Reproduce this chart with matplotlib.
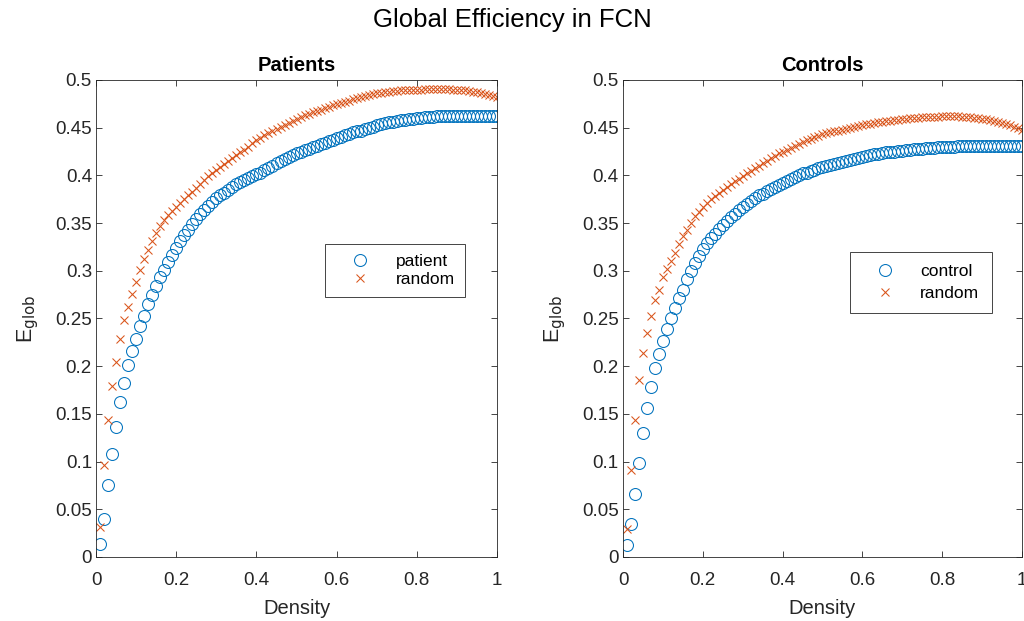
import numpy as np
import matplotlib.pyplot as plt

plt.rcParams['font.family'] = ['Liberation Sans', 'DejaVu Sans']

# density steps 0.01 .. 1.00
density = np.arange(1, 101) / 100

patient = [
    0.014, 0.040, 0.075, 0.108, 0.136, 0.162, 0.182, 0.201, 0.216, 0.229,
    0.242, 0.253, 0.265, 0.275, 0.284, 0.293, 0.301, 0.309, 0.317, 0.324,
    0.331, 0.337, 0.343, 0.349, 0.354, 0.359, 0.364, 0.368, 0.372, 0.376,
    0.379, 0.382, 0.385, 0.388, 0.391, 0.393, 0.395, 0.397, 0.399, 0.401,
    0.403, 0.406, 0.408, 0.410, 0.413, 0.415, 0.417, 0.419, 0.421, 0.423,
    0.425, 0.427, 0.428, 0.430, 0.431, 0.433, 0.434, 0.436, 0.437, 0.439,
    0.440, 0.442, 0.443, 0.445, 0.446, 0.447, 0.449, 0.450, 0.451, 0.453,
    0.454, 0.455, 0.456, 0.456, 0.457, 0.458, 0.458, 0.459, 0.459, 0.460,
    0.460, 0.461, 0.461, 0.461, 0.462, 0.462, 0.462, 0.462, 0.462, 0.462,
    0.462, 0.462, 0.462, 0.462, 0.462, 0.462, 0.462, 0.462, 0.462, 0.462,
]
patient_random = [
    0.031, 0.096, 0.144, 0.179, 0.204, 0.229, 0.248, 0.262, 0.276, 0.288,
    0.301, 0.312, 0.322, 0.331, 0.340, 0.347, 0.353, 0.358, 0.363, 0.367,
    0.371, 0.375, 0.379, 0.383, 0.387, 0.391, 0.395, 0.399, 0.402, 0.406,
    0.409, 0.412, 0.415, 0.418, 0.421, 0.424, 0.427, 0.430, 0.434, 0.437,
    0.439, 0.442, 0.444, 0.447, 0.449, 0.451, 0.453, 0.455, 0.457, 0.459,
    0.461, 0.463, 0.464, 0.466, 0.468, 0.469, 0.471, 0.472, 0.474, 0.475,
    0.476, 0.477, 0.478, 0.480, 0.481, 0.482, 0.483, 0.484, 0.485, 0.486,
    0.486, 0.487, 0.487, 0.488, 0.488, 0.489, 0.489, 0.489, 0.490, 0.490,
    0.490, 0.491, 0.491, 0.491, 0.491, 0.491, 0.491, 0.491, 0.490, 0.490,
    0.489, 0.489, 0.488, 0.487, 0.487, 0.486, 0.485, 0.484, 0.483, 0.482,
]
control = [
    0.013, 0.035, 0.066, 0.099, 0.130, 0.156, 0.178, 0.198, 0.213, 0.226,
    0.239, 0.250, 0.261, 0.271, 0.280, 0.291, 0.300, 0.308, 0.316, 0.323,
    0.329, 0.334, 0.339, 0.344, 0.348, 0.352, 0.356, 0.360, 0.364, 0.367,
    0.370, 0.373, 0.376, 0.379, 0.381, 0.384, 0.386, 0.388, 0.390, 0.392,
    0.394, 0.396, 0.398, 0.400, 0.402, 0.403, 0.405, 0.406, 0.408, 0.409,
    0.410, 0.411, 0.412, 0.413, 0.414, 0.415, 0.416, 0.417, 0.418, 0.419,
    0.420, 0.421, 0.422, 0.422, 0.423, 0.424, 0.424, 0.425, 0.426, 0.426,
    0.427, 0.427, 0.428, 0.428, 0.428, 0.429, 0.429, 0.429, 0.430, 0.430,
    0.430, 0.430, 0.430, 0.431, 0.431, 0.431, 0.431, 0.431, 0.431, 0.431,
    0.431, 0.431, 0.431, 0.431, 0.431, 0.431, 0.431, 0.431, 0.431, 0.431,
]
control_random = [
    0.029, 0.091, 0.144, 0.186, 0.214, 0.235, 0.253, 0.269, 0.280, 0.293,
    0.302, 0.310, 0.319, 0.328, 0.336, 0.343, 0.350, 0.357, 0.362, 0.367,
    0.371, 0.375, 0.378, 0.382, 0.385, 0.388, 0.391, 0.394, 0.396, 0.399,
    0.402, 0.405, 0.408, 0.410, 0.413, 0.415, 0.418, 0.420, 0.423, 0.425,
    0.427, 0.429, 0.431, 0.433, 0.435, 0.437, 0.438, 0.440, 0.441, 0.443,
    0.444, 0.445, 0.446, 0.447, 0.448, 0.449, 0.450, 0.451, 0.452, 0.453,
    0.454, 0.454, 0.455, 0.456, 0.456, 0.457, 0.457, 0.458, 0.458, 0.459,
    0.459, 0.460, 0.460, 0.460, 0.461, 0.461, 0.461, 0.461, 0.461, 0.462,
    0.462, 0.462, 0.462, 0.462, 0.461, 0.461, 0.461, 0.460, 0.460, 0.459,
    0.459, 0.458, 0.457, 0.456, 0.455, 0.454, 0.453, 0.451, 0.450, 0.448,
]

BLUE = '#0072BD'
ORANGE = '#D95319'
TXT = '#262626'

fig = plt.figure(figsize=(10.24, 6.21), dpi=100)
fig.text(0.5, 0.967, 'Global Efficiency in FCN', ha='center', va='center',
         fontsize=18.5, color='black')

# rect, title, series, legend label, legend anchor, legend spacing
panels = [
    ([0.0938, 0.1031, 0.3916, 0.7681], 'Patients', patient, patient_random,
     'patient', (0.92, 0.656), 0.55, 0.2, 2.9, 0.65),
    ([0.6084, 0.1031, 0.3896, 0.7681], 'Controls', control, control_random,
     'control', (0.924, 0.64), 0.7, 0.4, 2.6, 0.73),
]

for rect, title, vals, rvals, lab, anchor, bpad, lspace, hlen, htpad in panels:
    ax = fig.add_axes(rect)
    ax.plot(density, vals, 'o', ls='none', mfc='none', mec=BLUE,
            ms=8.6, mew=0.75, label=lab)
    ax.plot(density, rvals, 'x', ls='none', color=ORANGE,
            ms=6, mew=0.75, label='random')
    ax.set_xlim(0, 1)
    ax.set_ylim(0, 0.5)
    ax.set_xticks([0, 0.2, 0.4, 0.6, 0.8, 1])
    ax.set_xticklabels(['0', '0.2', '0.4', '0.6', '0.8', '1'])
    ax.set_yticks(np.arange(0, 0.51, 0.05))
    ax.set_yticklabels(['0', '0.05', '0.1', '0.15', '0.2', '0.25', '0.3',
                        '0.35', '0.4', '0.45', '0.5'])
    ax.tick_params(direction='in', top=True, right=True, labelsize=13.5,
                   colors=TXT, length=4, width=0.6)
    ax.tick_params(axis='x', pad=10.5)
    ax.tick_params(axis='y', pad=3)
    for s in ax.spines.values():
        s.set_color(TXT)
        s.set_linewidth(0.6)
    ax.set_title(title, fontsize=14.5, fontweight='bold', pad=6.5)
    ax.set_xlabel('Density', fontsize=14.5, color=TXT)
    ax.set_ylabel(r'E$_{\mathrm{glob}}$', fontsize=15.5, color=TXT)
    ax.xaxis.set_label_coords(0.5, -0.088)
    ax.yaxis.set_label_coords(-0.138, 0.5)
    leg = ax.legend(loc='upper right', bbox_to_anchor=anchor, fontsize=12.5,
                    fancybox=False, edgecolor=TXT, framealpha=1,
                    borderpad=bpad, handletextpad=htpad, labelspacing=lspace,
                    handlelength=hlen, borderaxespad=0)
    leg.get_frame().set_linewidth(0.6)

fig.savefig('out.png', dpi=100)
